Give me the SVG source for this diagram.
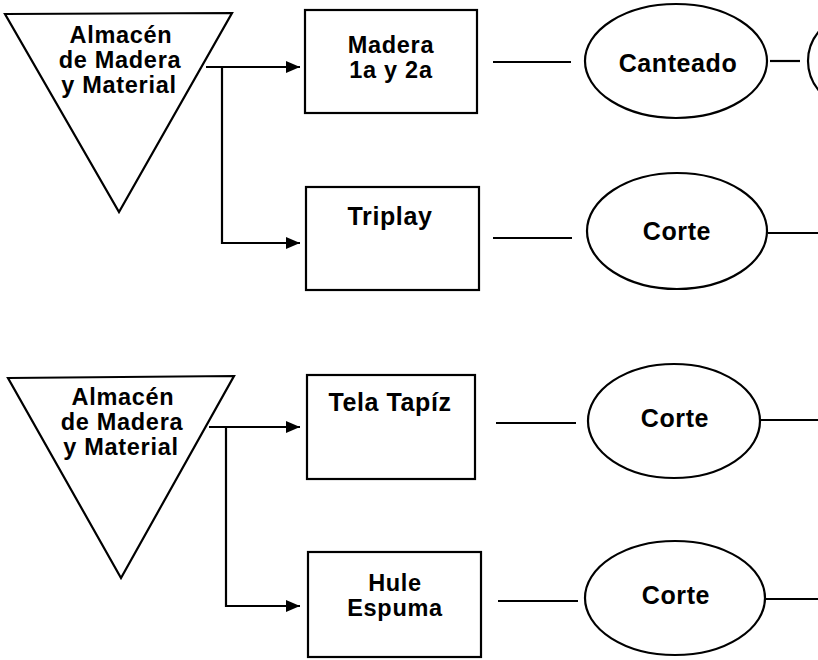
<svg xmlns="http://www.w3.org/2000/svg" width="818" height="660" viewBox="0 0 818 660">
<style>
.s{fill:#fff;stroke:#000;stroke-width:2.2}
.c{fill:none;stroke:#000;stroke-width:2.2}
.t{font-family:"Liberation Sans",Arial,sans-serif;font-weight:bold;font-size:25px;fill:#000;text-anchor:middle;letter-spacing:0.6px}
.m{font-size:23.5px;letter-spacing:0.7px}
</style>
<defs>
<marker id="ah" markerWidth="14" markerHeight="12" refX="14" refY="6" orient="auto" markerUnits="userSpaceOnUse">
<path d="M0,0 L14,6 L0,12 Z" fill="#000"/>
</marker>
</defs>
<rect width="818" height="660" fill="#fff"/>
<g id="connectors">
<path class="c" d="M206,67 H300" marker-end="url(#ah)"/>
<path class="c" d="M222,67 V243 H300" marker-end="url(#ah)"/>
<path class="c" d="M493,62 H571"/>
<path class="c" d="M770,61 H800"/>
<path class="c" d="M493,238 H572"/>
<path class="c" d="M768,233 H818"/>
<path class="c" d="M209,427 H300" marker-end="url(#ah)"/>
<path class="c" d="M226,427 V606 H300" marker-end="url(#ah)"/>
<path class="c" d="M496,423 H576"/>
<path class="c" d="M760,420 H818"/>
<path class="c" d="M498,601 H578"/>
<path class="c" d="M766,599 H818"/>
</g>
<g id="almacen1">
<polygon class="s" points="5,14 232,13 119,212"/>
<text class="t m" x="121" y="43">Almacén</text>
<text class="t m" x="120" y="68">de Madera</text>
<text class="t m" x="119" y="93">y Material</text>
</g>
<g id="madera">
<rect class="s" x="305" y="10" width="172" height="103"/>
<text class="t m" x="391" y="53">Madera</text>
<text class="t m" x="391" y="78">1a y 2a</text>
</g>
<g id="canteado">
<ellipse class="s" cx="676" cy="61" rx="91" ry="57"/>
<text class="t" x="678" y="72">Canteado</text>
</g>
<g id="next1">
<ellipse class="s" cx="870" cy="61" rx="62" ry="52"/>
</g>
<g id="triplay">
<rect class="s" x="306" y="187" width="173" height="103"/>
<text class="t" x="390" y="225">Triplay</text>
</g>
<g id="corte1">
<ellipse class="s" cx="677" cy="231" rx="90" ry="58"/>
<text class="t" x="677" y="240">Corte</text>
</g>
<g id="almacen2">
<polygon class="s" points="8,378 234,376 121,578"/>
<text class="t m" x="123" y="405">Almacén</text>
<text class="t m" x="122" y="430">de Madera</text>
<text class="t m" x="121" y="455">y Material</text>
</g>
<g id="tela">
<rect class="s" x="307" y="375" width="168" height="104"/>
<text class="t" x="390" y="411">Tela Tapíz</text>
</g>
<g id="corte2">
<ellipse class="s" cx="674" cy="421" rx="86" ry="57"/>
<text class="t" x="675" y="427">Corte</text>
</g>
<g id="hule">
<rect class="s" x="308" y="552" width="173" height="105"/>
<text class="t m" x="395" y="591">Hule</text>
<text class="t m" x="395" y="616">Espuma</text>
</g>
<g id="corte3">
<ellipse class="s" cx="675" cy="598" rx="90" ry="57" stroke-width="3"/>
<text class="t" x="676" y="604">Corte</text>
</g>
</svg>
